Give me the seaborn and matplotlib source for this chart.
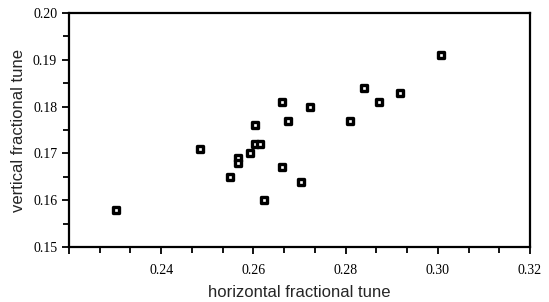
import matplotlib
matplotlib.use("Agg")
import matplotlib.pyplot as plt
from matplotlib.ticker import MultipleLocator, FormatStrFormatter
import seaborn as sns
import pandas as pd

horizontal = [0.2303, 0.2485, 0.2550, 0.2566, 0.2566, 0.2593, 0.2604, 0.2604, 0.2614,
              0.2623, 0.2661, 0.2661, 0.2674, 0.2703, 0.2722, 0.2810, 0.2840, 0.2872,
              0.2918, 0.3008]
vertical = [0.158, 0.171, 0.165, 0.169, 0.168, 0.170, 0.176, 0.172, 0.172,
            0.160, 0.181, 0.167, 0.177, 0.164, 0.180, 0.177, 0.184, 0.181,
            0.183, 0.191]

df = pd.DataFrame({"h": horizontal, "v": vertical})

sns.set_style("ticks")

fig = plt.figure(figsize=(5.49, 3.02), dpi=100)
ax = fig.add_axes([0.1257, 0.182, 0.8397, 0.775])

sns.scatterplot(data=df, x="h", y="v", ax=ax, marker="s", s=22,
                color="white", edgecolor="black", linewidth=2.4, zorder=3)

ax.set_xlim(0.22, 0.32)
ax.set_ylim(0.15, 0.20)
ax.xaxis.set_major_locator(MultipleLocator(0.02))
ax.xaxis.set_minor_locator(MultipleLocator(0.02 / 3))
ax.yaxis.set_major_locator(MultipleLocator(0.01))
ax.yaxis.set_minor_locator(MultipleLocator(0.005))
ax.yaxis.set_major_formatter(FormatStrFormatter("%.2f"))
ax.xaxis.set_major_formatter(lambda v, p: "" if v < 0.23 else f"{v:.2f}")

for lab in ax.get_xticklabels() + ax.get_yticklabels():
    lab.set_fontfamily("Liberation Serif")
ax.tick_params(which="both", direction="out", width=1.3, labelsize=10, colors="black")
ax.tick_params(which="major", length=5)
ax.tick_params(which="minor", length=4)
ax.tick_params(axis="x", which="major", pad=7)

for sp in ax.spines.values():
    sp.set_visible(True)
    sp.set_linewidth(1.6)
    sp.set_color("black")

ax.set_xlabel("horizontal fractional tune", fontsize=12, family="Liberation Sans", labelpad=6)
ax.set_ylabel("vertical fractional tune", fontsize=12, family="Liberation Sans", labelpad=5)

fig.savefig("out.png", dpi=100)
